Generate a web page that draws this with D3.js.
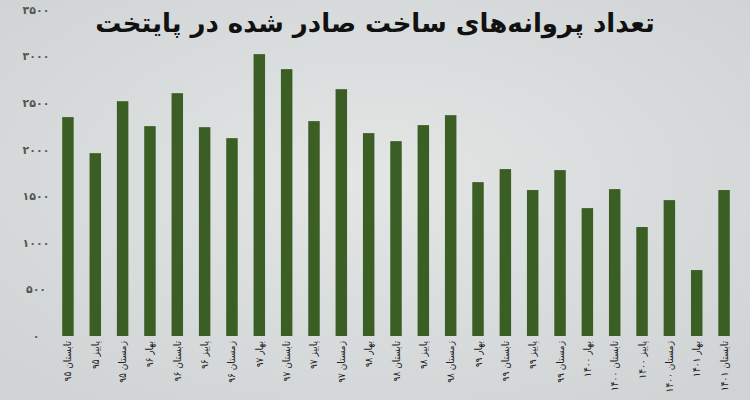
<!DOCTYPE html>
<html><head><meta charset="utf-8">
<script src="https://cdn.jsdelivr.net/npm/d3@7"></script>
<style>body{margin:0;}svg{display:block;}</style>
</head><body>
<script>
const categories = ["تابستان ۹۵","پاییز ۹۵","زمستان ۹۵","بهار ۹۶","تابستان ۹۶","پاییز ۹۶","زمستان ۹۶","بهار ۹۷","تابستان ۹۷","پاییز ۹۷","زمستان ۹۷","بهار ۹۸","تابستان ۹۸","پاییز ۹۸","زمستان ۹۸","بهار ۹۹","تابستان ۹۹","پاییز ۹۹","زمستان ۹۹","بهار ۱۴۰۰","تابستان ۱۴۰۰","پاییز ۱۴۰۰","زمستان ۱۴۰۰","بهار ۱۴۰۱","تابستان ۱۴۰۱"];
const values = [2350,1963,2521,2253,2607,2242,2124,3026,2865,2307,2650,2178,2092,2264,2371,1652,1792,1567,1781,1373,1577,1170,1459,708,1567];
const yTicks = [0,500,1000,1500,2000,2500,3000,3500];
const title = "تعداد پروانه‌های ساخت صادر شده در پایتخت";

const W = 750, H = 400;
const fa = d => d.toString().replace(/\d/g, c => "۰۱۲۳۴۵۶۷۸۹"[c]);

const svg = d3.select("body").append("svg").attr("width", W).attr("height", H);
const grad = svg.append("defs").append("radialGradient").attr("id","bg").attr("cx","50%").attr("cy","45%").attr("r","70%");
grad.append("stop").attr("offset","0%").attr("stop-color","#e4e6e6");
grad.append("stop").attr("offset","100%").attr("stop-color","#cfd3d3");
svg.append("rect").attr("width", W).attr("height", H).attr("fill","url(#bg)");

const x = d3.scaleBand().domain(categories).range([54, 738]).paddingInner(0.58).paddingOuter(0.3);
const y = d3.scaleLinear().domain([0, 3500]).range([336, 10]);

svg.append("g").selectAll("text").data(yTicks).join("text")
  .attr("x", 36).attr("y", d => y(d)).attr("dy", "0.35em")
  .attr("text-anchor", "middle")
  .style("font-family", "DejaVu Sans").style("font-size", "11px").style("font-weight", "bold")
  .attr("fill", "#555").text(d => fa(d));

svg.append("g").selectAll("rect").data(values).join("rect")
  .attr("x", (d, i) => x(categories[i])).attr("width", x.bandwidth())
  .attr("y", d => y(d)).attr("height", d => y(0) - y(d))
  .attr("fill", "#3b5e24");

svg.append("g").selectAll("text").data(categories).join("text")
  .attr("transform", d => `translate(${x(d) + x.bandwidth() / 2},${341}) rotate(-90)`)
  .attr("dy", "0.35em").attr("text-anchor", "end")
  .style("font-family", "DejaVu Sans Condensed, DejaVu Sans").style("font-size", "10px")
  .attr("fill", "#222").text(d => d);

svg.append("text").attr("x", 375).attr("y", 23).attr("dy", "0.35em")
  .attr("text-anchor", "middle")
  .style("font-family", "DejaVu Sans").style("font-size", "26px").style("font-weight", "bold")
  .attr("fill", "#111").text(title);
</script>
</body></html>
